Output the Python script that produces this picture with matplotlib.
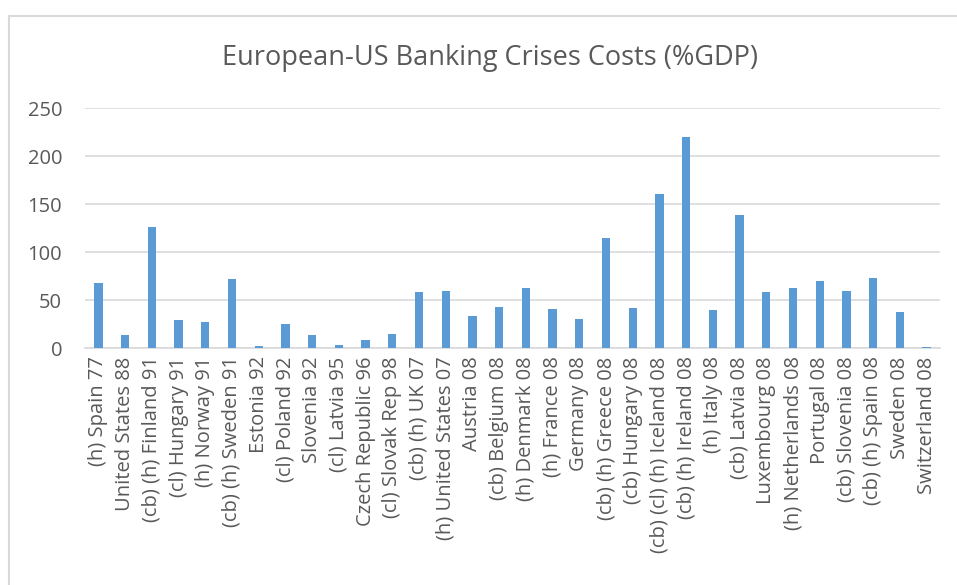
import matplotlib
matplotlib.use("Agg")
import matplotlib.pyplot as plt
from matplotlib.patches import Rectangle

categories = [
    "(h) Spain 77", "United States 88", "(cb) (h) Finland 91", "(cl) Hungary 91",
    "(h) Norway 91", "(cb) (h) Sweden 91", "Estonia 92", "(cl) Poland 92",
    "Slovenia 92", "(cl) Latvia 95", "Czech Republic 96", "(cl) Slovak Rep 98",
    "(cb) (h) UK 07", "(h) United States 07", "Austria 08", "(cb) Belgium 08",
    "(h) Denmark 08", "(h) France 08", "Germany 08", "(cb) (h) Greece 08",
    "(cb) Hungary 08", "(cb) (cl) (h) Iceland 08", "(cb) (h) Ireland 08", "(h) Italy 08",
    "(cb) Latvia 08", "Luxembourg 08", "(h) Netherlands 08", "Portugal 08",
    "(cb) Slovenia 08", "(cb) (h) Spain 08", "Sweden 08", "Switzerland 08",
]
values = [68, 14, 126, 29, 27, 72, 2, 25, 14, 3, 8, 15, 58, 59, 33, 43,
          63, 41, 30, 115, 42, 160, 220, 40, 139, 58, 62, 70, 59, 73, 37, 1]
yticks = [0, 50, 100, 150, 200, 250]

plt.rcParams['font.family'] = ['Open Sans', 'DejaVu Sans']
W, H = 957, 585
fig = plt.figure(figsize=(W / 100, H / 100), dpi=100)
fig.patch.set_facecolor('white')

# chart border
fig.patches.append(Rectangle((9 / W, -0.1), 1.2, (H - 15.5) / H + 0.1,
                             transform=fig.transFigure, fill=False,
                             edgecolor='#d9d9d9', linewidth=1.5))

ax = fig.add_axes([85 / W, (H - 348) / H, (940 - 85) / W, (348 - 108) / H])
x = list(range(len(categories)))
ax.bar(x, values, width=0.31, color='#5b9bd5', zorder=3)
ax.set_xlim(-0.5, len(categories) - 0.5)
ax.set_ylim(0, 250)
ax.set_yticks(yticks)
ax.set_yticklabels([str(t) for t in yticks], fontsize=14.5, color='#595959')
ax.set_xticks(x)
ax.set_xticklabels(categories, rotation=90, fontsize=14.5, color='#595959')
ax.tick_params(axis='both', length=0)
ax.tick_params(axis='y', pad=16.5)
ax.tick_params(axis='x', pad=6)
ax.grid(axis='y', color='#d9d9d9', linewidth=1.2, zorder=0)
for s in ['left', 'right', 'top']:
    ax.spines[s].set_visible(False)
ax.spines['bottom'].set_color('#d9d9d9')
ax.spines['bottom'].set_linewidth(1.2)

fig.text(490 / W, 1 - 58 / H, "European-US Banking Crises Costs (%GDP)",
         ha='center', va='center', fontsize=19.5, color='#595959')

fig.savefig('out.png', dpi=100)
